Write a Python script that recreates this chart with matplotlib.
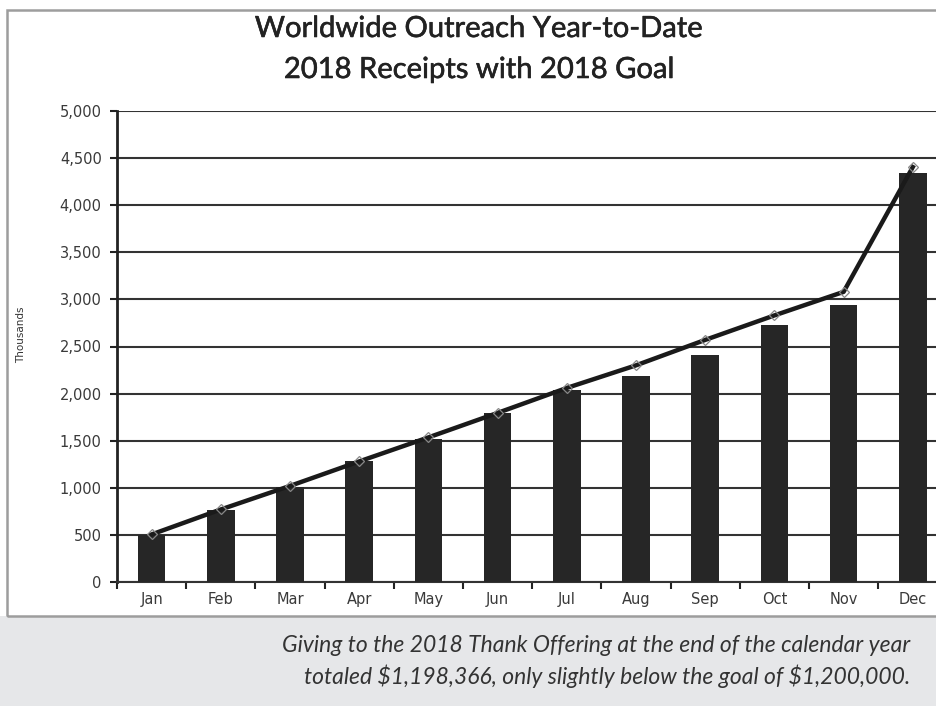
#!/usr/bin/env python3
"""Worldwide Outreach YTD receipts vs goal (2018)."""
import matplotlib
matplotlib.use("Agg")
import matplotlib.pyplot as plt
import matplotlib.patheffects as pe
from matplotlib.patches import Rectangle
from matplotlib.ticker import FuncFormatter

months = ["Jan", "Feb", "Mar", "Apr", "May", "Jun",
          "Jul", "Aug", "Sep", "Oct", "Nov", "Dec"]
receipts = [500, 765, 1005, 1280, 1515, 1795, 2035, 2185, 2415, 2725, 2945, 4340]
goal = [505, 770, 1020, 1280, 1535, 1795, 2060, 2300, 2570, 2830, 3080, 4405]
yticks = [0, 500, 1000, 1500, 2000, 2500, 3000, 3500, 4000, 4500, 5000]

W, H = 936, 706
fig = plt.figure(figsize=(W / 100, H / 100), dpi=100)
fig.patch.set_facecolor("white")

# gray caption band + chart frame
fig.patches.append(Rectangle((0, 0), 1, (H - 616) / H, transform=fig.transFigure,
                             facecolor="#e6e7e9", edgecolor="none", zorder=0))
fig.patches.append(Rectangle((7 / W, (H - 616) / H), 1.2, (616 - 10) / H,
                             transform=fig.transFigure, facecolor="none",
                             edgecolor="#9d9d9d", linewidth=1.8, zorder=1))

# axes: left spine at x=117, y=0 at 582, y=5000 at 111; width 12 categories of ~69px
x0, y0, y1 = 117, 582, 111
cat_w = 69.2
ax = fig.add_axes([x0 / W, (H - y0) / H, 12 * cat_w / W, (y0 - y1) / H])
ax.set_facecolor("none")

x = list(range(len(months)))
ax.bar(x, receipts, width=0.4, color="#262626", zorder=3)
ax.plot(x, goal, color="#1a1a1a", linewidth=3.2, marker="D", markersize=5,
        markerfacecolor="none", markeredgecolor="#888888", markeredgewidth=0.9,
        zorder=4)

ax.set_xlim(-0.5, 11.5)
ax.set_ylim(0, 5000)
ax.set_yticks(yticks)
ax.yaxis.set_major_formatter(FuncFormatter(lambda v, p: f"{int(v):,}"))
ax.grid(axis="y", color="#333333", linewidth=1.5, zorder=1)
ax.set_axisbelow(True)

ax.set_xticks([i + 0.5 for i in range(-1, 12)], minor=False)
ax.set_xticklabels([])
ax.set_xticks(x, minor=True)
ax.set_xticklabels(months, minor=True)
ax.tick_params(axis="x", which="minor", length=0, pad=7, labelsize=10.5,
               labelcolor="#3a3a3a")
ax.tick_params(axis="x", which="major", length=5, width=1.5, color="#222222",
               direction="out")
ax.tick_params(axis="y", length=5, width=1.5, color="#222222", pad=6,
               labelsize=10.5, labelcolor="#3a3a3a")
for lab in ax.get_yticklabels() + ax.get_xticklabels(minor=True):
    lab.set_fontfamily("DejaVu Sans")

for side in ("top", "right"):
    ax.spines[side].set_visible(False)
ax.spines["left"].set_linewidth(2)
ax.spines["left"].set_color("#222222")
ax.spines["bottom"].set_linewidth(1.5)
ax.spines["bottom"].set_color("#333333")

fig.text(21 / W, (H - 335) / H, "Thousands", rotation=90, ha="center",
         va="center", fontsize=7.5, color="#333333", family="DejaVu Sans")

# slight stroke to mimic the medium-weight title face
heavier = [pe.withStroke(linewidth=0.4, foreground="#222222")]
fig.text(479 / W, (H - 29) / H, "Worldwide Outreach Year-to-Date", ha="center",
         va="center", fontsize=21, color="#222222", family="Lato",
         path_effects=heavier)
fig.text(479 / W, (H - 70) / H, "2018 Receipts with 2018 Goal", ha="center",
         va="center", fontsize=21, color="#222222", family="Lato",
         path_effects=heavier)

fig.text(910 / W, (H - 646) / H,
         "Giving to the 2018 Thank Offering at the end of the calendar year",
         ha="right", va="center", fontsize=16.5, style="italic",
         color="#333333", family="Lato")
fig.text(910 / W, (H - 676) / H,
         r"totaled \$1,198,366, only slightly below the goal of \$1,200,000.",
         ha="right", va="center", fontsize=16.5, style="italic",
         color="#333333", family="Lato")

fig.savefig("out.png", dpi=100)
